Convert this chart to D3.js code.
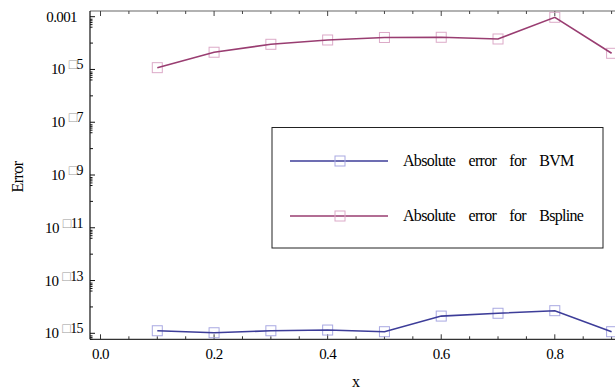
<!DOCTYPE html>
<html><head><meta charset="utf-8">
<script src="https://cdn.jsdelivr.net/npm/d3@7"></script>
<style>
html,body{margin:0;padding:0;background:#fff;overflow:hidden;}
text{font-family:"Liberation Serif","Times New Roman",serif;}
</style></head>
<body><svg id="c" width="615" height="392"></svg>
<script>
const xValues = [0.1,0.2,0.3,0.4,0.5,0.6,0.7,0.8,0.9];
const bvmErr = [1.25e-15,1.05e-15,1.25e-15,1.33e-15,1.15e-15,4.5e-15,5.75e-15,7.2e-15,1.15e-15];
const bsplineErr = [1.17e-5,4.5e-5,9.0e-5,1.31e-4,1.63e-4,1.66e-4,1.43e-4,9.5e-4,4.1e-5];
const seriesNames = ["Absolute error for BVM","Absolute error for Bspline"];
const xTickValues = [0,0.2,0.4,0.6,0.8];
const xTickLabels = ["0.0","0.2","0.4","0.6","0.8"];
const yTickValues = [1e-3,1e-5,1e-7,1e-9,1e-11,1e-13,1e-15];
const yTickBase = ["0.001","10","10","10","10","10","10"];
const yTickSup = ["","\u25A15","\u25A17","\u25A19","\u25A111","\u25A113","\u25A115"];

const svg = d3.select("#c");
const L=90, R=615, T=11, B=339.3;
const x = d3.scaleLinear().domain([-0.0185,0.906]).range([L,R]);
const y = d3.scaleLog().domain([Math.pow(10,-15.227),Math.pow(10,-2.784)]).range([B,T]);

const colors = ["#3d3d99","#993d71"];
const mcolors = ["#a9a9e2","#dcaac8"];

// frame
const axisColor = "#333";
svg.append("line").attr("x1",L).attr("x2",R).attr("y1",T).attr("y2",T).attr("stroke","#666").attr("stroke-width",1.2);
svg.append("line").attr("x1",L).attr("x2",R).attr("y1",B).attr("y2",B).attr("stroke",axisColor).attr("stroke-width",1.2);
svg.append("line").attr("x1",L).attr("x2",L).attr("y1",T).attr("y2",B).attr("stroke","#111").attr("stroke-width",1.2);

// x ticks
const xMinor = d3.range(0,0.91,0.05);
xMinor.forEach(v=>{
  const major = xTickValues.some(t=>Math.abs(t-v)<1e-9);
  const len = major?5:3;
  svg.append("line").attr("x1",x(v)).attr("x2",x(v)).attr("y1",B).attr("y2",B-len).attr("stroke",axisColor).attr("stroke-width",1);
  svg.append("line").attr("x1",x(v)).attr("x2",x(v)).attr("y1",T).attr("y2",T+len).attr("stroke","#444").attr("stroke-width",1);
});
xTickValues.forEach((v,i)=>{
  svg.append("text").attr("x",x(v)).attr("y",359).attr("text-anchor","middle")
    .attr("font-size",15).attr("letter-spacing",-0.6).text(xTickLabels[i]);
});

// y ticks
for(let e=-15;e<=-3;e++){
  const labeled = yTickValues.some(t=>Math.abs(Math.log10(t)-e)<1e-9);
  svg.append("line").attr("x1",L).attr("x2",L+(labeled?5:3)).attr("y1",y(Math.pow(10,e))).attr("y2",y(Math.pow(10,e))).attr("stroke","#111");
  if(labeled){
    [0.8,0.7,0.6,0.5,0.4].forEach(m=>{
      const yy=y(m*Math.pow(10,e));
      if(yy<B) svg.append("line").attr("x1",L).attr("x2",L+2.5).attr("y1",yy).attr("y2",yy).attr("stroke","#111");
    });
  }
}
yTickValues.forEach((v,i)=>{
  const t = svg.append("text").attr("y",y(v)+5).attr("text-anchor","end").attr("font-size",15).attr("letter-spacing",-0.6);
  if(yTickSup[i]===""){
    t.attr("x",77).text(yTickBase[i]);
  } else {
    t.attr("x",83);
    t.append("tspan").text(yTickBase[i]);
    t.append("tspan").attr("dx",4).attr("dy",-5).attr("font-size",14).attr("fill","#999").text(yTickSup[i].charAt(0));
    t.append("tspan").attr("font-size",14).attr("fill","#000").text(yTickSup[i].slice(1));
  }
});

// axis labels
svg.append("text").attr("transform","translate(23,177) rotate(-90)").attr("text-anchor","middle").attr("font-size",16).attr("letter-spacing",-0.6).text("Error");
svg.append("text").attr("x",356).attr("y",387).attr("text-anchor","middle").attr("font-size",16).text("x");

// data
const series = [bvmErr,bsplineErr];
const g = svg.append("g");
series.forEach((s,k)=>{
  s.forEach((v,i)=>{
    g.append("rect").attr("x",x(xValues[i])-5).attr("y",y(v)-5).attr("width",10).attr("height",10)
      .attr("fill","none").attr("stroke",mcolors[k]).attr("stroke-width",1);
  });
});
const line = d3.line().x((d,i)=>x(xValues[i])).y(d=>y(d));
series.forEach((s,k)=>{
  g.append("path").attr("d",line(s)).attr("fill","none").attr("stroke",colors[k]).attr("stroke-width",1.6);
});

// legend
svg.append("rect").attr("x",272).attr("y",127.5).attr("width",331).attr("height",120.5).attr("fill","#fff").attr("stroke","#222").attr("stroke-width",1);
[161,216].forEach((ly,k)=>{
  svg.append("line").attr("x1",290).attr("x2",388).attr("y1",ly).attr("y2",ly).attr("stroke",colors[k]).attr("stroke-width",1.6);
  svg.append("rect").attr("x",335).attr("y",ly-5).attr("width",10).attr("height",10).attr("fill","none").attr("stroke",mcolors[k]).attr("stroke-width",1);
  svg.append("text").attr("x",403).attr("y",ly+5).attr("font-size",16).attr("letter-spacing",-0.7).attr("word-spacing",10).text(seriesNames[k]);
});
</script></body></html>
